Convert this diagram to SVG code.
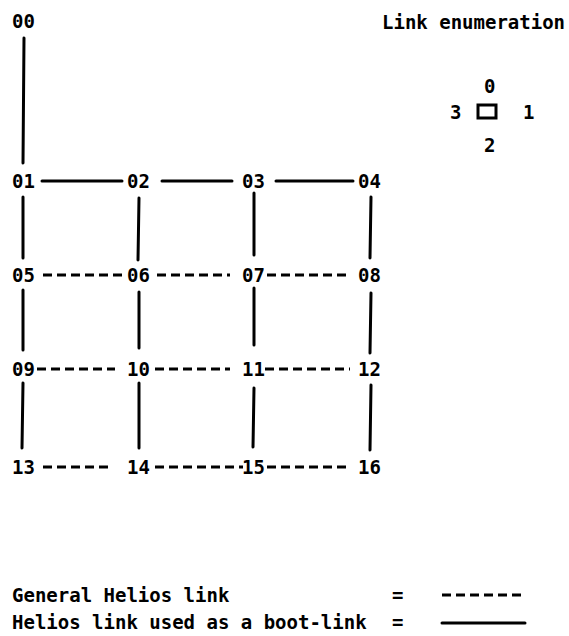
<svg xmlns="http://www.w3.org/2000/svg" width="569" height="636" viewBox="0 0 569 636">
<style>
text{font-family:"DejaVu Sans Mono","Liberation Mono",monospace;font-size:19px;font-weight:bold;fill:#000}
.s{stroke:#000;stroke-width:3;fill:none;stroke-linecap:round}
.d{stroke:#000;stroke-width:3;fill:none;stroke-dasharray:9 5}
</style>
<rect width="569" height="636" fill="#fff"/>
<g id="connectors">
<line class="s" x1="24" y1="38" x2="23" y2="163"/>
<line class="s" x1="42" y1="181" x2="122" y2="181"/>
<line class="s" x1="162" y1="181" x2="232" y2="181"/>
<line class="s" x1="276" y1="181" x2="353" y2="181"/>
<line class="s" x1="23" y1="197" x2="23" y2="258"/>
<line class="s" x1="139" y1="198" x2="138" y2="260"/>
<line class="s" x1="254" y1="193" x2="254" y2="255"/>
<line class="s" x1="371" y1="197" x2="370" y2="258"/>
<line class="d" x1="43" y1="275" x2="122" y2="275"/>
<line class="d" x1="157" y1="275" x2="230" y2="275"/>
<line class="d" x1="267" y1="275" x2="350" y2="275"/>
<line class="s" x1="23" y1="290" x2="23" y2="350"/>
<line class="s" x1="139" y1="292" x2="139" y2="348"/>
<line class="s" x1="254" y1="288" x2="254" y2="345"/>
<line class="s" x1="371" y1="293" x2="370" y2="353"/>
<line class="d" x1="37" y1="369" x2="115" y2="369"/>
<line class="d" x1="155" y1="369" x2="230" y2="369"/>
<line class="d" x1="265" y1="369" x2="350" y2="369"/>
<line class="s" x1="23" y1="383" x2="22" y2="448"/>
<line class="s" x1="139" y1="383" x2="139" y2="448"/>
<line class="s" x1="254" y1="388" x2="253" y2="447"/>
<line class="s" x1="371" y1="385" x2="370" y2="450"/>
<line class="d" x1="43" y1="467" x2="113" y2="467"/>
<line class="d" x1="155" y1="467" x2="243" y2="467"/>
<line class="d" x1="267" y1="467" x2="348" y2="467"/>
</g>
<g id="n00"><text x="12" y="28">00</text></g>
<g id="n01"><text x="12" y="188">01</text></g>
<g id="n02"><text x="127" y="188">02</text></g>
<g id="n03"><text x="242" y="188">03</text></g>
<g id="n04"><text x="358" y="188">04</text></g>
<g id="n05"><text x="12" y="282">05</text></g>
<g id="n06"><text x="127" y="282">06</text></g>
<g id="n07"><text x="242" y="282">07</text></g>
<g id="n08"><text x="358" y="282">08</text></g>
<g id="n09"><text x="12" y="376">09</text></g>
<g id="n10"><text x="127" y="376">10</text></g>
<g id="n11"><text x="242" y="376">11</text></g>
<g id="n12"><text x="358" y="376">12</text></g>
<g id="n13"><text x="12" y="474">13</text></g>
<g id="n14"><text x="127" y="474">14</text></g>
<g id="n15"><text x="242" y="474">15</text></g>
<g id="n16"><text x="358" y="474">16</text></g>
<g id="enumeration">
<text x="382" y="29">Link enumeration</text>
<text x="484" y="93">0</text>
<text x="450" y="119">3</text>
<rect x="478" y="105" width="18" height="13" fill="none" stroke="#000" stroke-width="3"/>
<text x="523" y="119">1</text>
<text x="484" y="152">2</text>
</g>
<g id="legend">
<text x="12" y="602">General Helios link</text>
<text x="392" y="602">=</text>
<line class="d" x1="442" y1="595" x2="522" y2="595" stroke-dasharray="12 5"/>
<text x="12" y="629">Helios link used as a boot-link</text>
<text x="392" y="629">=</text>
<line class="s" x1="442" y1="623" x2="525" y2="623"/>
</g>
</svg>
